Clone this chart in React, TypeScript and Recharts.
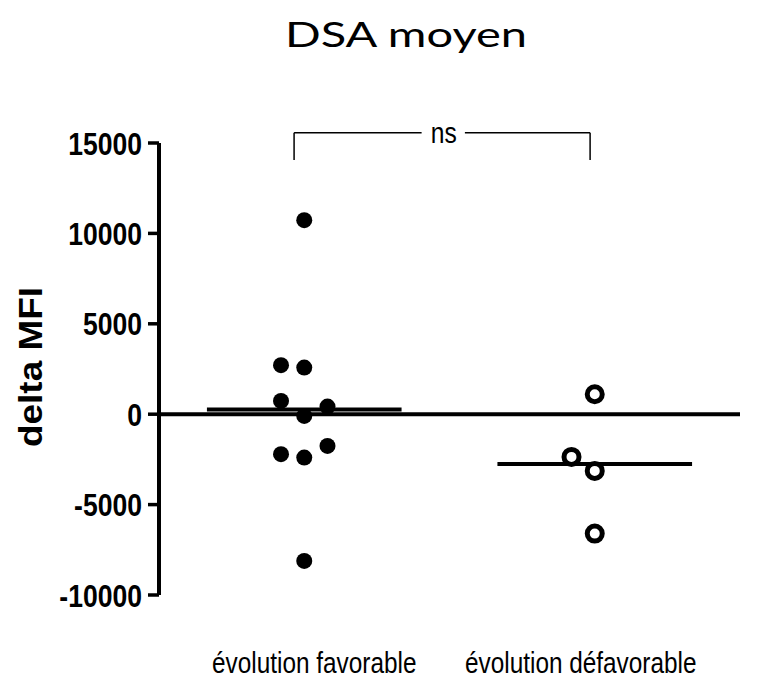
import React from 'react';
import {
  ScatterChart,
  Scatter,
  XAxis,
  YAxis,
  ReferenceLine,
  ReferenceDot,
  Customized,
} from 'recharts';

// ---- data ----
const categories = ['évolution favorable', 'évolution défavorable'];
const favorableValues = [10730, 2710, 2580, 735, 420, -94, -2212, -2400, -1753, -8114];
const favorableColumns = [0, -1, 0, -1, 1, 0, -1, 0, 1, 0];
const defavorableValues = [1106, -2362, -3136, -6604];
const defavorableColumns = [0, -1, 0, 0];
const yTicks = [-10000, -5000, 0, 5000, 10000, 15000];
const title = 'DSA moyen';
const yLabel = 'delta MFI';
const significance = 'ns';

// ---- layout / style constants ----
const W = 768;
const H = 678;
const JITTER = 0.08;
const MEAN_HALF = 0.335;
const xLabelDx = [10, -14];
const BRACKET = { x1: 0.965, x2: 1.984, gapL: 1.404, gapR: 1.553, textX: 1.48, top: 15570, foot: 14060 };
const ARIAL = '"Liberation Sans", Arial, sans-serif';

const mean = (a: number[]) => a.reduce((s, v) => s + v, 0) / a.length;

const favData = favorableValues.map((v, i) => ({ x: 1 + favorableColumns[i] * JITTER, y: v }));
const defData = defavorableValues.map((v, i) => ({ x: 2 + defavorableColumns[i] * JITTER, y: v }));
const favMean = mean(favorableValues);
const defMean = mean(defavorableValues);

const YTick = (props: any) => {
  const { x, y, payload } = props;
  return (
    <text
      transform={`translate(${x},${y}) scale(0.83,1)`}
      textAnchor="end"
      dy="0.36em"
      fontFamily={ARIAL}
      fontWeight="bold"
      fontSize={32}
      fill="#000"
    >
      {payload.value}
    </text>
  );
};

const XTick = (props: any) => {
  const { x, y, payload } = props;
  const idx = Math.round(payload.value) - 1;
  return (
    <text
      transform={`translate(${x + (xLabelDx[idx] || 0)},${y + 78}) scale(0.84,1)`}
      textAnchor="middle"
      fontFamily={ARIAL}
      fontSize={29}
      fill="#000"
    >
      {categories[idx]}
    </text>
  );
};

const FilledDot = (props: any) => <circle cx={props.cx} cy={props.cy} r={8} fill="#000" />;
const OpenDot = (props: any) => (
  <circle cx={props.cx} cy={props.cy} r={7.5} fill="#fff" stroke="#000" strokeWidth={5} />
);

const NsLabel = (props: any) => (
  <text
    transform={`translate(${props.cx},${props.cy + 10}) scale(0.82,1)`}
    textAnchor="middle"
    fontFamily={ARIAL}
    fontSize={30}
    fill="#000"
  >
    {significance}
  </text>
);

const Texts = () => (
  <g>
    <text
      x={406}
      y={47}
      textAnchor="middle"
      fontFamily="Lato, 'Open Sans', sans-serif"
      fontSize={34}
      textLength={242}
      lengthAdjust="spacingAndGlyphs"
      fill="#000"
    >
      {title}
    </text>
    <text
      transform="translate(42,367) rotate(-90)"
      textAnchor="middle"
      fontFamily={ARIAL}
      fontWeight="bold"
      fontSize={34}
      textLength={160}
      lengthAdjust="spacingAndGlyphs"
      fill="#000"
    >
      {yLabel}
    </text>
  </g>
);

const thin = { stroke: '#000', strokeWidth: 1.5 };

export default function App() {
  return (
    <div style={{ position: 'absolute', left: 0, top: 0, width: W, height: H, background: '#fff' }}>
      <ScatterChart width={W} height={H} margin={{ top: 143, right: 28, bottom: 0, left: 59 }}>
        <XAxis
          type="number"
          dataKey="x"
          domain={[0.5, 2.5]}
          ticks={categories.map((_, i) => i + 1)}
          axisLine={false}
          tickLine={false}
          tickSize={0}
          tickMargin={0}
          height={83}
          interval={0}
          tick={<XTick />}
          allowDataOverflow
        />
        <YAxis
          type="number"
          dataKey="y"
          domain={[-10000, 15000]}
          ticks={yTicks}
          interval={0}
          width={100}
          tickSize={11}
          tickMargin={6}
          axisLine={{ stroke: '#000', strokeWidth: 4 }}
          tickLine={{ stroke: '#000', strokeWidth: 3.5 }}
          tick={<YTick />}
          allowDataOverflow
        />
        <ReferenceLine y={0} stroke="#000" strokeWidth={4} />
        <ReferenceLine
          segment={[{ x: 1 - MEAN_HALF, y: favMean }, { x: 1 + MEAN_HALF, y: favMean }]}
          stroke="#000"
          strokeWidth={4}
        />
        <ReferenceLine
          segment={[{ x: 2 - MEAN_HALF, y: defMean }, { x: 2 + MEAN_HALF, y: defMean }]}
          stroke="#000"
          strokeWidth={4}
        />
        <ReferenceLine
          ifOverflow="visible"
          segment={[{ x: BRACKET.x1, y: BRACKET.foot }, { x: BRACKET.x1, y: BRACKET.top }]}
          {...thin}
        />
        <ReferenceLine
          ifOverflow="visible"
          segment={[{ x: BRACKET.x1, y: BRACKET.top }, { x: BRACKET.gapL, y: BRACKET.top }]}
          {...thin}
        />
        <ReferenceLine
          ifOverflow="visible"
          segment={[{ x: BRACKET.gapR, y: BRACKET.top }, { x: BRACKET.x2, y: BRACKET.top }]}
          {...thin}
        />
        <ReferenceLine
          ifOverflow="visible"
          segment={[{ x: BRACKET.x2, y: BRACKET.top }, { x: BRACKET.x2, y: BRACKET.foot }]}
          {...thin}
        />
        <ReferenceDot
          x={BRACKET.textX}
          y={BRACKET.top}
          r={0}
          ifOverflow="visible"
          shape={<NsLabel />}
        />
        <Scatter data={favData} shape={<FilledDot />} isAnimationActive={false} />
        <Scatter data={defData} shape={<OpenDot />} isAnimationActive={false} />
        <Customized component={Texts} />
      </ScatterChart>
    </div>
  );
}
